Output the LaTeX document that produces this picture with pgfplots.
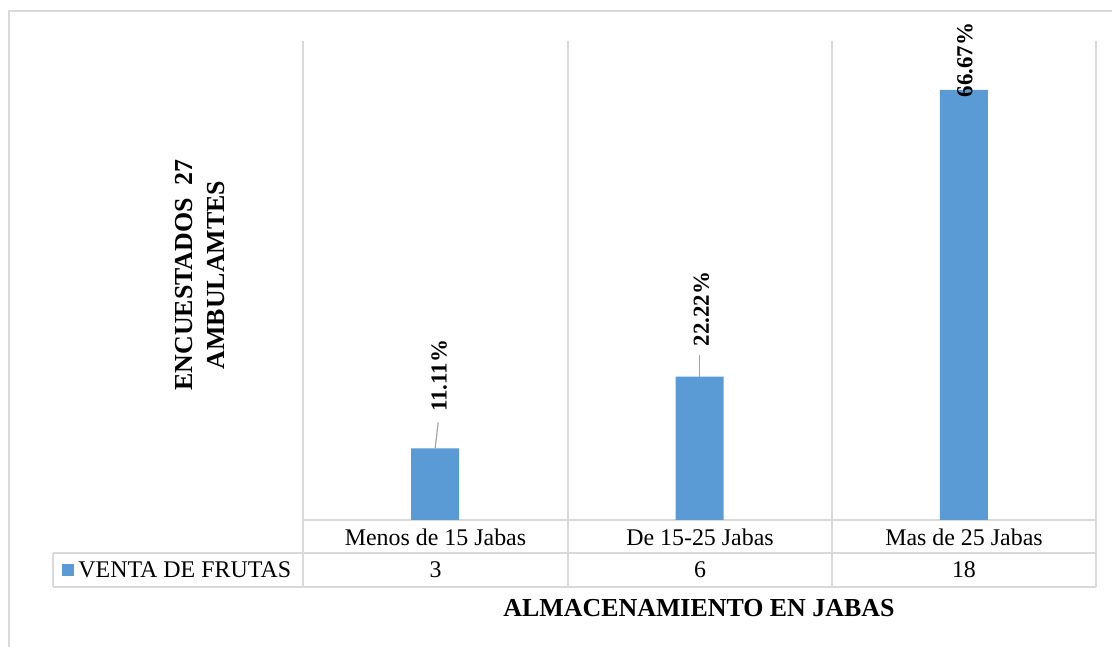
\documentclass[border=0pt]{standalone}
\usepackage{pgfplots}
\pgfplotsset{compat=1.18}
\usepackage{fontspec}
\setmainfont{Liberation Serif}
\definecolor{barblue}{HTML}{5B9BD5}
\definecolor{gridgray}{HTML}{D9D9D9}
\definecolor{leadergray}{HTML}{A6A6A6}

\begin{document}
\begin{tikzpicture}
\path[use as bounding box] (0,0) rectangle (556bp,323.5bp);
% layout grid in half-point units, measured from the top-left corner
\begin{scope}[x=0.5bp, y=-0.5bp, yshift=323.5bp]
  % outer chart frame
  \draw[gridgray, line width=1bp] (9,647) -- (9,11.5) -- (1112,11.5);
  % category separators and data table grid
  \begin{scope}[gridgray, line width=1bp]
    \foreach \xx in {303,568,832,1096} \draw (\xx,41.5) -- (\xx,587);
    \draw (303,520) -- (1096,520);
    \draw (53.5,553) -- (1096,553);
    \draw (53.5,587) -- (1096,587);
    \draw (53.5,553) -- (53.5,587);
  \end{scope}
  % data table
  \begin{scope}[font=\fontsize{12}{14}\selectfont]
    \node at (435.5,537) {Menos de 15 Jabas};
    \node at (700,537) {De 15-25 Jabas};
    \node at (964,537) {Mas de 25 Jabas};
    \node at (435.5,570) {3};
    \node at (700,570) {6};
    \node at (964,570) {18};
    \fill[barblue] (62,564) rectangle (74,576);
    \node[anchor=west, inner sep=0pt] at (78,570) {VENTA DE FRUTAS};
  \end{scope}
  % axis titles
  \node[font=\fontsize{13}{16}\selectfont\bfseries] at (699,608) {ALMACENAMIENTO EN JABAS};
  \node[rotate=90, align=center, font=\fontsize{13}{16}\selectfont\bfseries] at (200,275)
    {ENCUESTADOS\ \ 27\\AMBULAMTES};
\end{scope}

\begin{axis}[
  at={(151.5bp,63.5bp)}, anchor=south west,
  width=396.5bp, height=239bp, scale only axis,
  xmin=0.5, xmax=3.5, ymin=0, ymax=20,
  hide axis, clip=false,
]
\addplot[ybar, bar width=24bp, fill=barblue, draw=none]
  coordinates {(1,3) (2,6) (3,18)};
% data labels (share of 27 respondents)
\draw[leadergray, line width=0.6bp] (axis cs:1,3) -- ++(1.5bp,13bp);
\draw[leadergray, line width=0.6bp] (axis cs:2,6) -- ++(0bp,11bp);
\tikzset{lbl/.style={inner sep=0pt, font=\fontsize{11.5}{14}\selectfont\bfseries}}
\node[lbl, xshift=2bp, yshift=18bp, rotate=90, anchor=west] at (axis cs:1,3) {11.11\%};
\node[lbl, xshift=1bp, yshift=15bp, rotate=90, anchor=west] at (axis cs:2,6) {22.22\%};
\node[lbl, xshift=0.5bp, yshift=-4bp, rotate=90, anchor=west] at (axis cs:3,18) {66.67\%};
\end{axis}
\end{tikzpicture}
\end{document}
